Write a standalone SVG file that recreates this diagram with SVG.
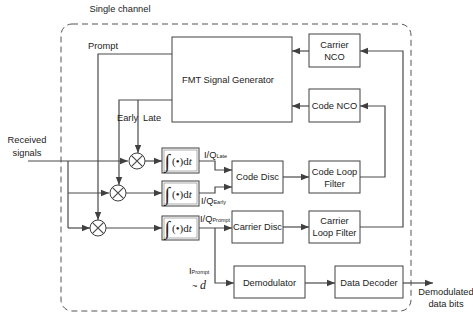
<svg xmlns="http://www.w3.org/2000/svg" width="473" height="320" viewBox="0 0 473 320">
<defs>
<marker id="ah" viewBox="0 0 8 8" refX="8" refY="4" markerWidth="8" markerHeight="8" markerUnits="userSpaceOnUse" orient="auto">
<path d="M0,0.8 L8,4 L0,7.2 z" fill="#404040"/>
</marker>
<style>
.box{fill:#fff;stroke:#404040;stroke-width:1}
.ln{fill:none;stroke:#4a4a4a;stroke-width:1.2}
.arr{fill:none;stroke:#4a4a4a;stroke-width:1.2;marker-end:url(#ah)}
.t{font-family:"Liberation Sans",Arial,sans-serif;font-size:9.3px;fill:#222;text-anchor:middle}
.ts{font-family:"Liberation Sans",Arial,sans-serif;font-size:9.3px;fill:#222}
.sub{font-size:5.5px}
.ig{font-family:"Liberation Serif","Times New Roman",serif;fill:#222}
.mx{fill:#fff;stroke:#404040;stroke-width:1}
</style>
</defs>
<rect width="473" height="320" fill="#fff"/>
<text class="t" x="120" y="12">Single channel</text>
<rect x="61" y="24" width="350" height="287" rx="11" ry="11" fill="none" stroke="#555" stroke-width="1" stroke-dasharray="6,4"/>

<g id="connectors">
<path class="arr" d="M28,161 H128"/>
<path class="ln" d="M68,161 V228"/>
<path class="arr" d="M68,193 H109"/>
<path class="arr" d="M68,228 H90"/>
<path class="arr" d="M172,54 H98 V220"/>
<path class="arr" d="M172,100 H119 V185"/>
<path class="arr" d="M138,100 V153"/>
<path class="arr" d="M145,161 H162"/>
<path class="arr" d="M126,193 H162"/>
<path class="arr" d="M106,228 H162"/>
<path class="arr" d="M199,161 H215 V170 H232"/>
<path class="arr" d="M199,193 H215 V187 H232"/>
<path class="arr" d="M199,228 H232"/>
<path class="arr" d="M215,228 V283 H234"/>
<path class="arr" d="M283,177 H309"/>
<path class="arr" d="M283,227 H309"/>
<path class="arr" d="M360,177 H385 V106 H360"/>
<path class="arr" d="M360,227 H403 V51 H360"/>
<path class="arr" d="M309,51 H292"/>
<path class="arr" d="M309,106 H292"/>
<path class="arr" d="M305,283 H335"/>
<path class="arr" d="M403,283 H433"/>
</g>

<g id="fmt">
<rect class="box" x="172" y="37" width="120" height="85"/>
<text class="t" x="228" y="83">FMT Signal Generator</text>
</g>
<g id="carrier-nco">
<rect class="box" x="309" y="34" width="51" height="33"/>
<text class="t" x="334.5" y="48">Carrier</text>
<text class="t" x="334.5" y="60">NCO</text>
</g>
<g id="code-nco">
<rect class="box" x="309" y="89" width="51" height="33"/>
<text class="t" x="334.5" y="109">Code NCO</text>
</g>
<g id="code-disc">
<rect class="box" x="232" y="161" width="51" height="32"/>
<text class="t" x="257.5" y="180">Code Disc</text>
</g>
<g id="code-loop-filter">
<rect class="box" x="309" y="161" width="51" height="32"/>
<text class="t" x="334.5" y="175">Code Loop</text>
<text class="t" x="334.5" y="187">Filter</text>
</g>
<g id="carrier-disc">
<rect class="box" x="232" y="211" width="51" height="32"/>
<text class="t" x="257.5" y="230">Carrier Disc</text>
</g>
<g id="carrier-loop-filter">
<rect class="box" x="309" y="211" width="51" height="32"/>
<text class="t" x="334.5" y="224">Carrier</text>
<text class="t" x="334.5" y="236">Loop Filter</text>
</g>
<g id="demodulator">
<rect class="box" x="234" y="266" width="71" height="32"/>
<text class="t" x="269.5" y="286">Demodulator</text>
</g>
<g id="data-decoder">
<rect class="box" x="335" y="266" width="68" height="32"/>
<text class="t" x="369" y="286">Data Decoder</text>
</g>

<g id="mixer-late">
<circle class="mx" cx="137" cy="161" r="8"/>
<path class="ln" d="M131.3,155.3 L142.7,166.7 M142.7,155.3 L131.3,166.7" stroke-width="1"/>
</g>
<g id="mixer-early">
<circle class="mx" cx="118" cy="193" r="8"/>
<path class="ln" d="M112.3,187.3 L123.7,198.7 M123.7,187.3 L112.3,198.7" stroke-width="1"/>
</g>
<g id="mixer-prompt">
<circle class="mx" cx="98" cy="228" r="8"/>
<path class="ln" d="M92.3,222.3 L103.7,233.7 M103.7,222.3 L92.3,233.7" stroke-width="1"/>
</g>

<g id="int-late">
<rect class="box" x="162" y="148" width="37" height="25" stroke="#555"/>
<rect x="164" y="150" width="33" height="21" fill="none" stroke="#999" stroke-width="0.8"/>
<text class="ig" x="164.5" y="168" font-size="20">∫</text>
<text class="ig" x="172" y="165" font-size="11">(•)d<tspan font-style="italic">t</tspan></text>
</g>
<g id="int-early">
<rect class="box" x="162" y="181" width="37" height="25" stroke="#555"/>
<rect x="164" y="183" width="33" height="21" fill="none" stroke="#999" stroke-width="0.8"/>
<text class="ig" x="164.5" y="201" font-size="20">∫</text>
<text class="ig" x="172" y="198" font-size="11">(•)d<tspan font-style="italic">t</tspan></text>
</g>
<g id="int-prompt">
<rect class="box" x="162" y="216" width="37" height="24" stroke="#555"/>
<rect x="164" y="218" width="33" height="20" fill="none" stroke="#999" stroke-width="0.8"/>
<text class="ig" x="164.5" y="235" font-size="20">∫</text>
<text class="ig" x="172" y="232" font-size="11">(•)d<tspan font-style="italic">t</tspan></text>
</g>

<text class="t" x="27" y="143">Received</text>
<text class="t" x="27" y="156">signals</text>
<text class="ts" x="88" y="49">Prompt</text>
<text class="ts" x="117" y="121">Early</text>
<text class="ts" x="143" y="121">Late</text>
<text class="ts" x="204" y="158">I/Q<tspan class="sub">Late</tspan></text>
<text class="ts" x="201" y="204">I/Q<tspan class="sub">Early</tspan></text>
<text class="ts" x="200" y="222">I/Q<tspan class="sub">Prompt</tspan></text>
<text class="ts" x="189" y="274">I<tspan class="sub">Prompt</tspan></text>
<text class="ts" x="192" y="289">~ <tspan font-family="Liberation Serif,serif" font-style="italic" font-size="12">d</tspan></text>
<text class="t" x="446" y="295">Demodulated</text>
<text class="t" x="446" y="307">data bits</text>
</svg>
